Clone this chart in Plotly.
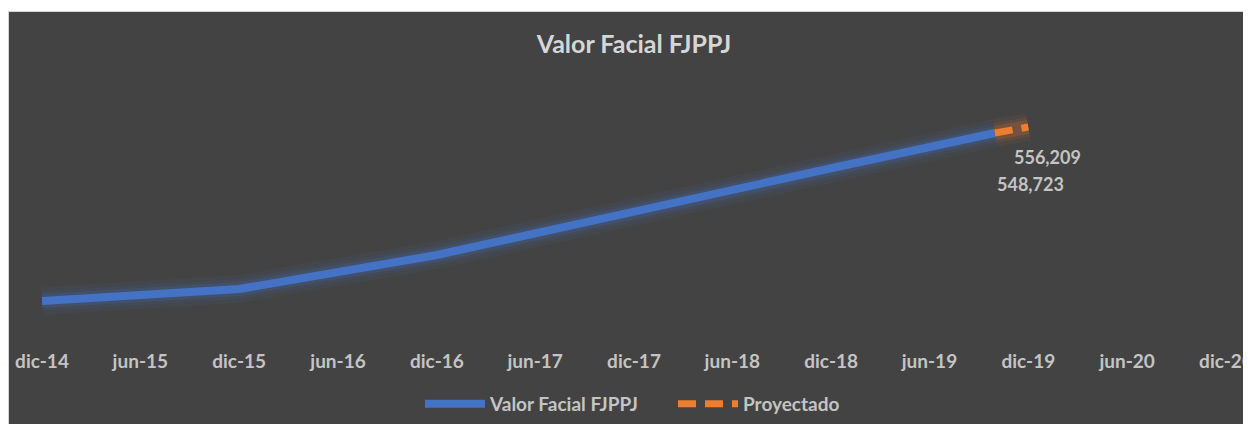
import plotly.graph_objects as go

# Data
fechas = ["2014-12-01", "2015-12-01", "2016-12-01", "2017-09-01", "2017-12-01", "2018-12-01", "2019-09-30"]
valores = [338700, 353700, 396200, 437500, 449900, 504700, 548723]
fechas_proy = ["2019-09-30", "2019-12-01"]
valores_proy = [548723, 556209]
tick_fechas = ["2014-12-01", "2015-06-01", "2015-12-01", "2016-06-01", "2016-12-01", "2017-06-01",
               "2017-12-01", "2018-06-01", "2018-12-01", "2019-06-01", "2019-12-01", "2020-06-01", "2020-12-01"]
tick_textos = ["dic-14", "jun-15", "dic-15", "jun-16", "dic-16", "jun-17", "dic-17",
               "jun-18", "dic-18", "jun-19", "dic-19", "jun-20", "dic-20"]

BLUE = "#4472C4"
ORANGE = "#ED7D31"
TXT = "#c4c4c4"
BG = "#434343"
FONT = "Lato"

W, H = 1243, 416
L, R, T, B = 34, 25, 52, 79
PW, PH = W - L - R, H - T - B

fig = go.Figure()
# glow layers
for w, a in [(28, 0.06), (20, 0.10), (14, 0.16)]:
    fig.add_trace(go.Scatter(x=fechas, y=valores, mode="lines",
                             line=dict(color=f"rgba(68,114,196,{a})", width=w),
                             showlegend=False, hoverinfo="skip"))
    fig.add_trace(go.Scatter(x=fechas_proy, y=valores_proy, mode="lines",
                             line=dict(color=f"rgba(237,125,49,{a})", width=w),
                             showlegend=False, hoverinfo="skip"))

fig.add_trace(go.Scatter(x=fechas, y=valores, mode="lines", name="Valor Facial FJPPJ",
                         line=dict(color=BLUE, width=8)))
fig.add_trace(go.Scatter(x=fechas_proy, y=valores_proy, mode="lines", name="Proyectado",
                         line=dict(color=ORANGE, width=7, dash="18px,9px")))

# data labels
fig.add_annotation(x=fechas_proy[-1], y=valores_proy[-1], text=f"<b>{valores_proy[-1]:,}</b>",
                   showarrow=False, xshift=19, yshift=-30,
                   font=dict(family=FONT, size=18, color=TXT))
fig.add_annotation(x=fechas[-1], y=valores[-1], text=f"<b>{valores[-1]:,}</b>",
                   showarrow=False, xshift=36, yshift=-51,
                   font=dict(family=FONT, size=18, color=TXT))

# chart background panel
fig.add_shape(type="rect", xref="paper", yref="paper",
              x0=(0.5 - L) / PW, x1=(1240 - L) / PW,
              y0=-(B + 10) / PH, y1=(T - 3.5) / PH + 1,
              fillcolor=BG, line=dict(color="#d4d4d4", width=1), layer="below")

fig.update_layout(
    width=W, height=H,
    template="none",
    paper_bgcolor="white",
    plot_bgcolor=BG,
    margin=dict(l=L, r=R, t=T, b=B, pad=0, autoexpand=False),
    title=dict(text="<b>Valor Facial FJPPJ</b>", x=0.5, xanchor="center", xref="paper",
               y=1 - 36 / H, yanchor="middle",
               font=dict(family=FONT, size=25, color="#d6d6d6")),
    xaxis=dict(type="date", range=["2014-12-01", "2020-12-01"], tickvals=tick_fechas,
               ticktext=tick_textos, showgrid=False, showline=False, zeroline=False,
               ticks="", automargin=False, ticklabelstandoff=3, ticklabeloverflow="allow",
               tickfont=dict(family=FONT, size=19, color=TXT, weight="bold")),
    yaxis=dict(range=[283723, 639973], visible=False, automargin=False),
    legend=dict(orientation="h", x=(412 - L) / PW, xanchor="left", y=-59 / PH, yanchor="middle",
                font=dict(family=FONT, size=19, color=TXT, weight="bold"),
                bgcolor="rgba(0,0,0,0)", itemwidth=60, entrywidth=178, entrywidthmode="pixels"),
    showlegend=True,
)

fig.write_html("out.html")
